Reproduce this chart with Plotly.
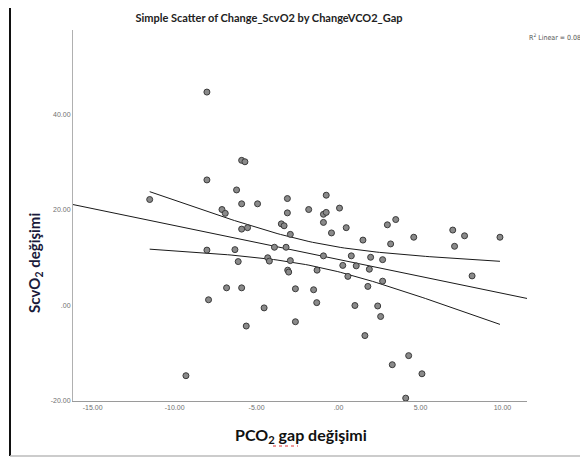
import numpy as np
import plotly.graph_objects as go

# Data: Change in PCO2 gap (x) vs change in ScvO2 (y)
pco2_gap_change = [
    -8.03, -5.91, -5.71, -8.03, -6.22, -11.52, -5.91, -4.94, -3.12, -0.75,
    -7.11, -6.91, -3.12, -1.82, -0.92, -0.75, 0.06, -3.49, -3.32, -0.92,
    -5.91, -5.55, 0.47, -0.43, -2.94, 1.49, -8.03, -6.32, -3.91, -3.20,
    -6.12, -4.32, -4.22, -2.94, -0.92, 0.78, 0.26, 1.08, -3.10, -3.04,
    -1.31, 0.57, 2.98, 3.49, 3.18, 4.59, 6.97, 7.69, 7.08, 9.85,
    1.96, 2.69, 1.88, 2.69, 8.15, 1.79, -1.52, -1.33, 1.00, 2.39,
    2.57, 1.61, 4.28, 3.28, 5.09, 4.10, -6.83, -5.91, -7.93, -2.63,
    -4.54, -5.63, -2.63, -9.31,
]
scvo2_change = [
    44.7, 30.4, 30.1, 26.3, 24.2, 22.2, 21.3, 21.3, 22.4, 23.1,
    20.1, 19.3, 19.4, 20.1, 19.1, 19.5, 20.4, 17.1, 16.7, 17.4,
    16.0, 16.3, 16.3, 15.2, 14.9, 13.7, 11.6, 11.7, 12.2, 12.2,
    9.2, 10.0, 9.3, 9.4, 10.4, 10.4, 8.4, 8.3, 7.4, 7.0,
    7.4, 6.1, 16.9, 18.0, 12.9, 14.3, 15.8, 14.6, 12.4, 14.3,
    10.1, 9.6, 7.6, 5.1, 6.2, 4.0, 3.3, 0.6, 0.0, -0.1,
    -2.3, -6.3, -10.5, -12.4, -14.3, -19.4, 3.7, 3.7, 1.2, 3.5,
    -0.5, -4.3, -3.4, -14.7,
]

x_ticks = [-15, -10, -5, 0, 5, 10]
x_tick_labels = ["-15.00", "-10.00", "-5.00", ".00", "5.00", "10.00"]
y_ticks = [-20, 0, 20, 40]
y_tick_labels = ["-20.00", ".00", "20.00", "40.00"]
r2_label = "R<sup>2</sup> Linear = 0.08"
x_range = [-16.2, 11.5]
y_range = [-20.0, 57.7]
t_crit = 1.99

x = np.array(pco2_gap_change)
y = np.array(scvo2_change)
n = len(x)
slope, intercept = np.polyfit(x, y, 1)
resid = y - (intercept + slope * x)
s = np.sqrt(np.sum(resid ** 2) / (n - 2))
xbar = x.mean()
sxx = np.sum((x - xbar) ** 2)

fit_x = np.linspace(x_range[0], x_range[1], 50)
fit_y = intercept + slope * fit_x
band_x = np.linspace(x.min(), x.max(), 100)
band_mid = intercept + slope * band_x
half = t_crit * s * np.sqrt(1.0 / n + (band_x - xbar) ** 2 / sxx)

fig = go.Figure()
line_style = dict(color="#1a1a1a", width=1)
fig.add_trace(go.Scatter(x=fit_x, y=fit_y, mode="lines", line=line_style, hoverinfo="skip"))
fig.add_trace(go.Scatter(x=band_x, y=band_mid + half, mode="lines", line=line_style, hoverinfo="skip"))
fig.add_trace(go.Scatter(x=band_x, y=band_mid - half, mode="lines", line=line_style, hoverinfo="skip"))
fig.add_trace(go.Scatter(
    x=x, y=y, mode="markers",
    marker=dict(size=6, color="#8a8a8a", line=dict(color="#3a3a3a", width=1)),
))

# The page body adds an 8px offset; design in window pixels and shift.
OFF = 8
W, H = 588 - OFF, 461 - OFF
plot_left, plot_right, plot_top, plot_bottom = 73, 527, 30, 401
L = plot_left - OFF
R = W - (plot_right - OFF)
T = plot_top - OFF
B = H - (plot_bottom - OFF)
pw, ph = W - L - R, H - T - B


def px(xp):
    return (xp - OFF - L) / pw


def py(yp):
    return (H - B - (yp - OFF)) / ph


tick_font = dict(family="Liberation Sans, Arial, sans-serif", size=7, color="#707070")
fig.update_layout(
    width=W, height=H,
    margin=dict(l=L, r=R, t=T, b=B, autoexpand=False),
    paper_bgcolor="white", plot_bgcolor="white",
    showlegend=False,
    title=dict(
        text="<b>Simple Scatter of Change_ScvO2 by ChangeVCO2_Gap</b>",
        x=(269 - OFF) / W, y=1 - (18 - OFF) / H, xanchor="center", yanchor="middle",
        font=dict(family="Lato, Liberation Sans, sans-serif", size=11, color="#222222"),
    ),
    xaxis=dict(
        range=x_range, tickvals=x_ticks, ticktext=x_tick_labels,
        showgrid=False, zeroline=False, showline=True, linecolor="#9a9a9a", linewidth=1,
        ticks="", tickfont=tick_font,
    ),
    yaxis=dict(
        range=y_range, tickvals=y_ticks, ticktext=y_tick_labels,
        showgrid=False, zeroline=False, showline=True, linecolor="#b0b0b0", linewidth=1,
        ticks="", tickfont=tick_font,
    ),
    annotations=[
        dict(text=r2_label, xref="paper", yref="paper",
             x=px(527), y=py(37), xanchor="left", yanchor="middle", showarrow=False,
             font=dict(family="DejaVu Sans Condensed, Liberation Sans, sans-serif",
                       size=7, color="#555555")),
        dict(text="<b>ScvO<sub>2</sub> değişimi</b>", xref="paper", yref="paper",
             x=px(35), y=py(263), xanchor="center", yanchor="middle", textangle=-90,
             showarrow=False,
             font=dict(family="Lato, Liberation Sans, sans-serif", size=15, color="#1a1a3a")),
        dict(text="<b>PCO<sub>2</sub> gap değişimi</b>", xref="paper", yref="paper",
             x=px(301), y=py(435), xanchor="center", yanchor="middle", showarrow=False,
             font=dict(family="Lato, Liberation Sans, sans-serif", size=16, color="#111111")),
    ],
    shapes=[
        dict(type="line", xref="paper", yref="paper", x0=px(10), x1=px(10), y0=py(0), y1=py(456),
             line=dict(color="#111111", width=2)),
        dict(type="line", xref="paper", yref="paper", x0=px(10), x1=px(588), y0=py(456), y1=py(456),
             line=dict(color="#bbbbbb", width=1.5)),
        dict(type="line", xref="paper", yref="paper", x0=px(273), x1=px(298), y0=py(446), y1=py(446),
             line=dict(color="#e03030", width=1, dash="dot")),
    ],
)

fig.write_html("out.html")
